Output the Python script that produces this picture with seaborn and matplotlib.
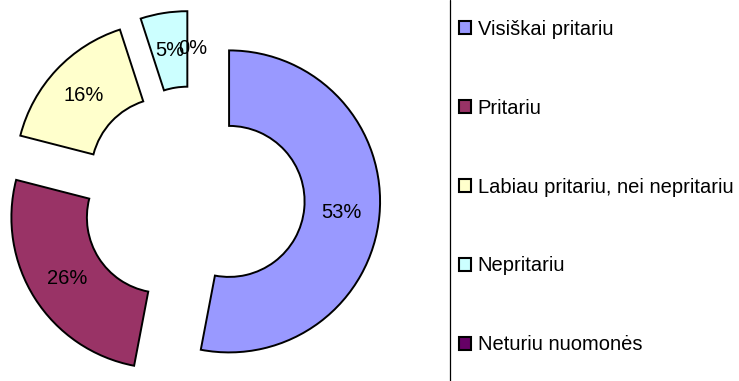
import matplotlib
matplotlib.use("Agg")
import matplotlib.pyplot as plt
from matplotlib.lines import Line2D
from matplotlib.patches import Patch
import seaborn as sns

# Survey answers and their shares (%)
categories = ["Visiškai pritariu", "Pritariu", "Labiau pritariu, nei nepritariu",
              "Nepritariu", "Neturiu nuomonės"]
shares = [53, 26, 16, 5, 0]
colors = ["#9999FF", "#993366", "#FFFFCC", "#CCFFFF", "#660066"]

sns.set_style("white")
plt.rcParams["font.family"] = ["Liberation Sans", "DejaVu Sans"]
plt.rcParams["text.color"] = "black"

W, H, DPI = 739, 381, 100
fig = plt.figure(figsize=(W / DPI, H / DPI), dpi=DPI)
ax = fig.add_axes([0, 0, 1, 1])

palette = sns.color_palette(colors)
wedges, texts, autotexts = ax.pie(
    shares,
    colors=palette,
    startangle=90,
    counterclock=False,
    explode=[0.24] * len(shares),
    autopct="%1.0f%%",
    pctdistance=0.75,
    wedgeprops=dict(width=0.5, edgecolor="black", linewidth=1.4),
    textprops=dict(fontsize=14.5, color="black"),
)
for w, v in zip(wedges, shares):
    if v == 0:
        w.set_linewidth(0)

# place the donut centre at (193, 198) px with a 151 px outer radius
R, cx, cy = 151.0, 193.0, 198.0
ax.set_xlim(-cx / R, (W - cx) / R)
ax.set_ylim(-(H - cy) / R, cy / R)
ax.set_aspect("auto")
ax.axis("off")

# legend
handles = [Patch(facecolor=c, edgecolor="black", linewidth=1.5) for c in colors]
leg = fig.legend(
    handles, categories,
    loc="upper left",
    bbox_to_anchor=(459 / W, 1 - 20 / H),
    frameon=False,
    fontsize=14.5,
    labelcolor="black",
    handlelength=0.62,
    handleheight=0.62,
    handletextpad=0.3,
    labelspacing=2.97,
    borderaxespad=0,
    borderpad=0,
)

# left border of the legend box
fig.add_artist(Line2D([449.5 / W, 449.5 / W], [0, 1], color="black", linewidth=0.9,
                      transform=fig.transFigure))

fig.savefig("out.png", dpi=DPI)
